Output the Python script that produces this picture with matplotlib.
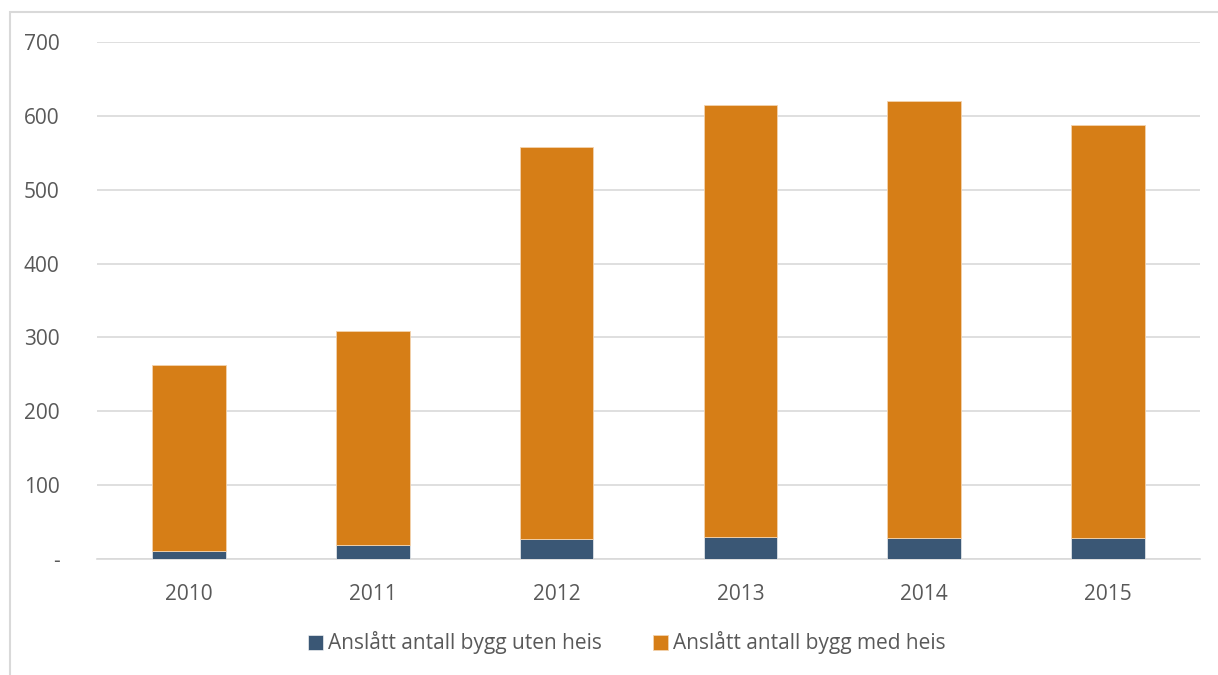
import matplotlib
matplotlib.use("Agg")
import matplotlib.pyplot as plt
from matplotlib.patches import Rectangle
import numpy as np

years = ["2010", "2011", "2012", "2013", "2014", "2015"]
uten_heis = [11, 19, 27, 30, 29, 28]
totals = [263, 309, 558, 615, 620, 588]
med_heis = [t - u for t, u in zip(totals, uten_heis)]
yticks = [0, 100, 200, 300, 400, 500, 600, 700]
ytick_labels = ["-", "100", "200", "300", "400", "500", "600", "700"]

BLUE = "#3A5775"
ORANGE = "#D67E17"
TXT = "#595959"
GRID = "#D9D9D9"

plt.rcParams["font.family"] = ["Open Sans", "DejaVu Sans"]

W, H = 1218, 675
fig = plt.figure(figsize=(W / 100, H / 100), dpi=100)
ax = fig.add_axes([97 / W, 1 - 559 / H, (1200 - 97) / W, (559 - 42) / H])

x = np.arange(len(years))
ax.bar(x, uten_heis, width=0.40, color=BLUE, edgecolor="white", linewidth=0.4,
       label="Anslått antall bygg uten heis", zorder=3)
ax.bar(x, med_heis, bottom=uten_heis, width=0.40, color=ORANGE, edgecolor="#F3D3AE",
       linewidth=0.6, label="Anslått antall bygg med heis", zorder=3)

ax.set_xlim(-0.5, len(years) - 0.5)
ax.set_ylim(0, 700)
ax.set_yticks(yticks)
ax.set_yticklabels(ytick_labels)
ax.set_xticks(x)
ax.set_xticklabels(years)
ax.yaxis.grid(True, color=GRID, linewidth=1.2, zorder=0)
ax.set_axisbelow(True)
for s in ["top", "right", "left"]:
    ax.spines[s].set_visible(False)
ax.spines["bottom"].set_color(GRID)
ax.spines["bottom"].set_linewidth(1.2)
ax.tick_params(axis="both", length=0, labelsize=15, colors=TXT)
ax.tick_params(axis="y", pad=27)
ax.tick_params(axis="x", pad=18)

leg = fig.legend(loc="center", bbox_to_anchor=(627 / W, 1 - 643 / H), ncol=2,
                 frameon=False, fontsize=15, handlelength=0.7, handleheight=0.7,
                 handletextpad=0.25, columnspacing=2.45)
for t in leg.get_texts():
    t.set_color(TXT)

# outer chart border (partially cropped)
fig.patches.append(Rectangle((10 / W, -0.1), 1.2, 1 - 12 / H + 0.1,
                             transform=fig.transFigure, fill=False,
                             edgecolor=GRID, linewidth=1.5))

fig.savefig("out.png", dpi=100)
